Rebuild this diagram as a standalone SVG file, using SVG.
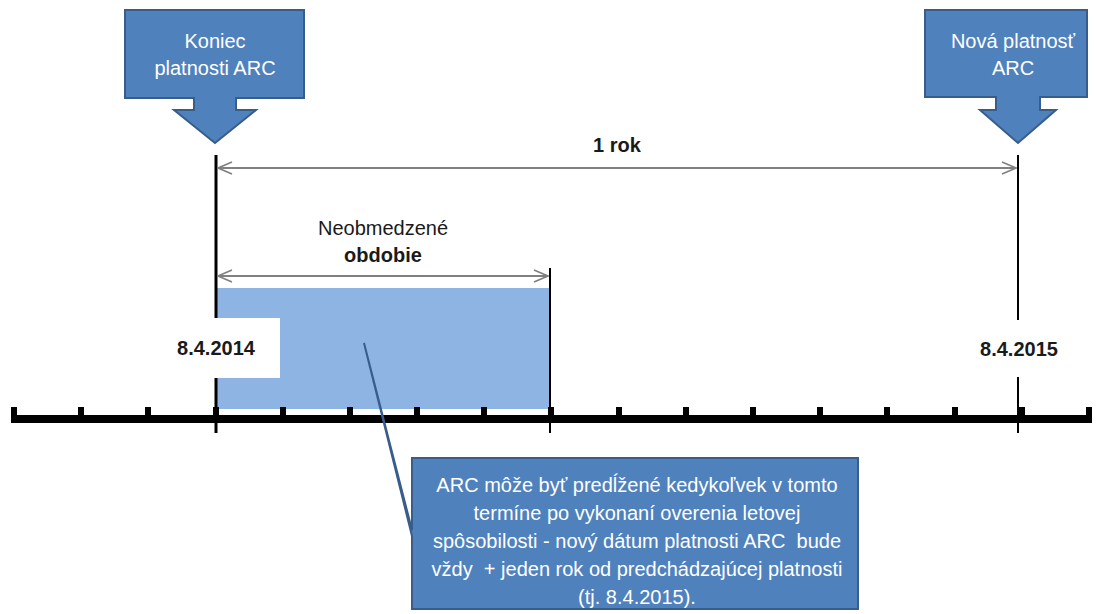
<svg xmlns="http://www.w3.org/2000/svg" width="1096" height="614" viewBox="0 0 1096 614">
<style>
.callout{fill:#4F81BD;stroke:#385D8A;stroke-width:2}
.wt{fill:#ffffff;font-family:"Liberation Sans",Arial,sans-serif;font-size:20px;text-anchor:middle}
.lbl{fill:#1a1a1a;font-family:"Liberation Sans",Arial,sans-serif;font-size:20px;text-anchor:middle}
.b{font-weight:bold}
.dim{stroke:#808080;stroke-width:2;fill:none}
.vl{stroke:#000;fill:none}
.tick{fill:#000}
</style>
<defs>
<marker id="ah" viewBox="0 0 16 14" refX="15" refY="7" markerWidth="16" markerHeight="14" markerUnits="userSpaceOnUse" orient="auto-start-reverse">
<path d="M1,1 L15,7 L1,13" fill="none" stroke="#808080" stroke-width="1.6"/>
</marker>
</defs>
<rect width="1096" height="614" fill="#ffffff"/>

<g id="period-rect">
<rect x="216" y="288" width="334" height="121" fill="#8DB4E2"/>
</g>

<g id="timeline">
<rect x="11" y="415" width="1081" height="8" fill="#000"/>
<rect class="tick" x="11" y="407" width="6" height="9"/>
<rect class="tick" x="78" y="407" width="6" height="9"/>
<rect class="tick" x="145" y="407" width="6" height="9"/>
<rect class="tick" x="213" y="407" width="6" height="9"/>
<rect class="tick" x="280" y="407" width="6" height="9"/>
<rect class="tick" x="347" y="407" width="6" height="9"/>
<rect class="tick" x="414" y="407" width="6" height="9"/>
<rect class="tick" x="481" y="407" width="6" height="9"/>
<rect class="tick" x="548" y="407" width="6" height="9"/>
<rect class="tick" x="616" y="407" width="6" height="9"/>
<rect class="tick" x="683" y="407" width="6" height="9"/>
<rect class="tick" x="750" y="407" width="6" height="9"/>
<rect class="tick" x="817" y="407" width="6" height="9"/>
<rect class="tick" x="884" y="407" width="6" height="9"/>
<rect class="tick" x="952" y="407" width="6" height="9"/>
<rect class="tick" x="1019" y="407" width="6" height="9"/>
<rect class="tick" x="1086" y="407" width="6" height="9"/>
</g>

<g id="connectors">
<line class="vl" x1="216" y1="155" x2="216" y2="433" stroke-width="3"/>
<line class="vl" x1="550" y1="268" x2="550" y2="433" stroke-width="2"/>
<line class="vl" x1="1018" y1="155" x2="1018" y2="433" stroke-width="2"/>
<line class="dim" x1="218" y1="168" x2="1016" y2="168" marker-start="url(#ah)" marker-end="url(#ah)"/>
<line class="dim" x1="218" y1="276" x2="548" y2="276" marker-start="url(#ah)" marker-end="url(#ah)"/>
</g>

<g id="label-1rok">
<text class="lbl b" x="617" y="152">1 rok</text>
</g>

<g id="label-neobmedzene">
<text class="lbl" x="383" y="235">Neobmedzené</text>
<text class="lbl b" x="383" y="262">obdobie</text>
</g>

<g id="date-2014">
<rect x="152" y="318" width="128" height="60" fill="#ffffff"/>
<text class="lbl b" x="216" y="355">8.4.2014</text>
</g>

<g id="date-2015">
<rect x="958" y="320" width="122" height="57" fill="#ffffff"/>
<text class="lbl b" x="1019" y="356">8.4.2015</text>
</g>

<g id="callout-koniec">
<path class="callout" d="M125,10 H304 V98 H236 V110 H256 L215,143 L174,110 H194 V98 H125 Z"/>
<text class="wt" x="215" y="48">Koniec</text>
<text class="wt" x="215" y="75">platnosti ARC</text>
</g>

<g id="callout-nova">
<path class="callout" d="M925,10 H1087 V97 H1040 V110 H1056 L1018,143 L980,110 H996 V97 H925 Z"/>
<text class="wt" x="1013" y="48">Nová platnosť</text>
<text class="wt" x="1013" y="75">ARC</text>
</g>

<g id="callout-note">
<path class="callout" d="M412,458 H858 V609 H412 V536 L364,343 L412,530 Z"/>
<g class="wt" style="font-size:20px">
<text x="637" y="492">ARC môže byť predĺžené kedykoľvek v tomto</text>
<text x="637" y="520">termíne po vykonaní overenia letovej</text>
<text x="637" y="548" xml:space="preserve">spôsobilosti - nový dátum platnosti ARC  bude</text>
<text x="637" y="576" xml:space="preserve">vždy  + jeden rok od predchádzajúcej platnosti</text>
<text x="637" y="604">(tj. 8.4.2015).</text>
</g>
</g>
</svg>
